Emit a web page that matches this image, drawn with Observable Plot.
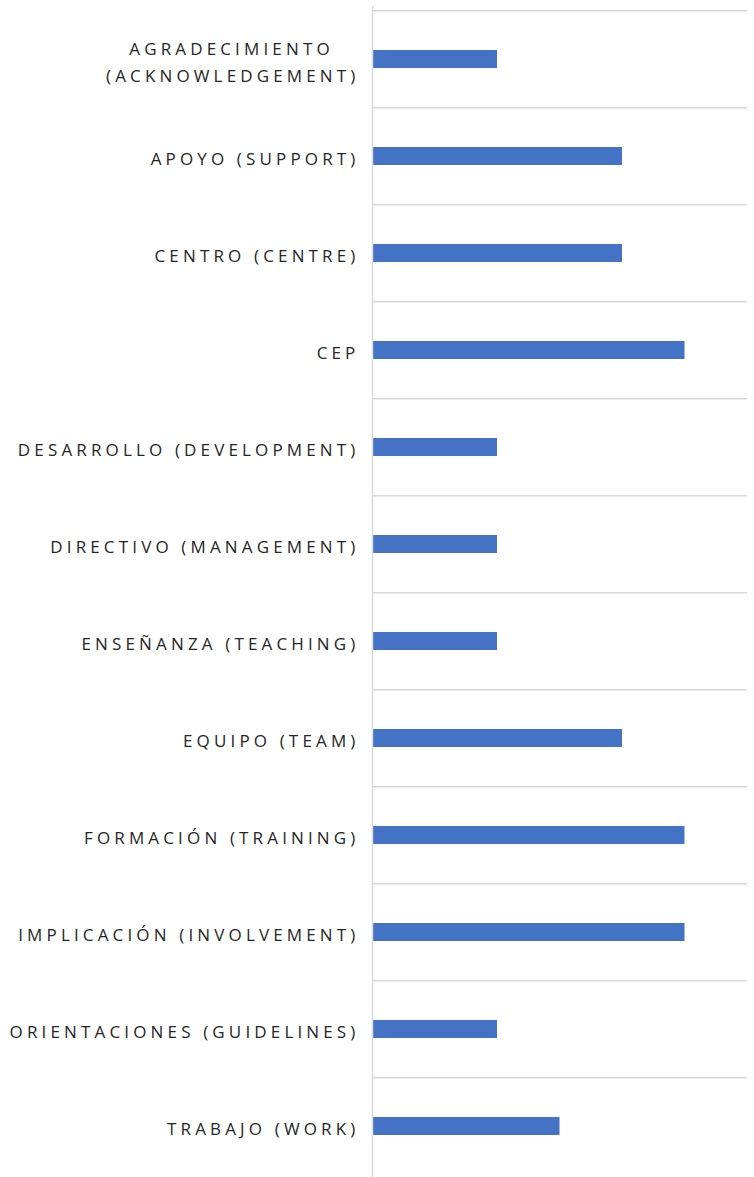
<!DOCTYPE html>
<html>
<head>
<meta charset="utf-8">
<script src="https://cdn.jsdelivr.net/npm/d3@7"></script>
<script src="https://cdn.jsdelivr.net/npm/@observablehq/plot@0.6"></script>
<style>
  html, body { margin: 0; padding: 0; background: #fff; overflow: hidden; }
</style>
</head>
<body>
<div id="chart"></div>
<script>
const categories = [
  "AGRADECIMIENTO\u00a0\u00a0\u00a0\n(ACKNOWLEDGEMENT)",
  "APOYO (SUPPORT)",
  "CENTRO (CENTRE)",
  "CEP",
  "DESARROLLO (DEVELOPMENT)",
  "DIRECTIVO (MANAGEMENT)",
  "ENSEÑANZA (TEACHING)",
  "EQUIPO (TEAM)",
  "FORMACIÓN (TRAINING)",
  "IMPLICACIÓN (INVOLVEMENT)",
  "ORIENTACIONES (GUIDELINES)",
  "TRABAJO (WORK)"
];
const values = [2, 4, 4, 5, 2, 2, 2, 4, 5, 5, 2, 3];

const data = categories.map((c, i) => ({category: c, value: values[i]}));

const W = 754, H = 1179, mTop = 6, mBottom = 0;
const step = (H - mTop - mBottom) / categories.length;

const chart = Plot.plot({
  width: W,
  height: H,
  marginLeft: 372,
  marginRight: 7,
  marginTop: mTop,
  marginBottom: mBottom,
  style: {fontFamily: "'Open Sans', sans-serif", fontSize: "17px", letterSpacing: "4.15px", color: "#262626", background: "#fff"},
  x: {domain: [0, 6], axis: null},
  y: {domain: categories, paddingInner: 0.816, paddingOuter: 0.408, axis: null, label: null},
  marks: [
    Plot.ruleY(categories, {y: d => d, dy: -step / 2, stroke: "#d9d9d9", strokeWidth: 1.5}),
    Plot.barX(data, {x: "value", y: "category", fill: "#4472C4"}),
    Plot.ruleX([0], {stroke: "#d9d9d9", strokeWidth: 1.5}),
    Plot.axisY({tickSize: 0, tickPadding: 13, fontSize: 17, lineHeight: 1.6, fill: "#262626", label: null})
  ]
});
document.getElementById("chart").appendChild(chart);
</script>
</body>
</html>
